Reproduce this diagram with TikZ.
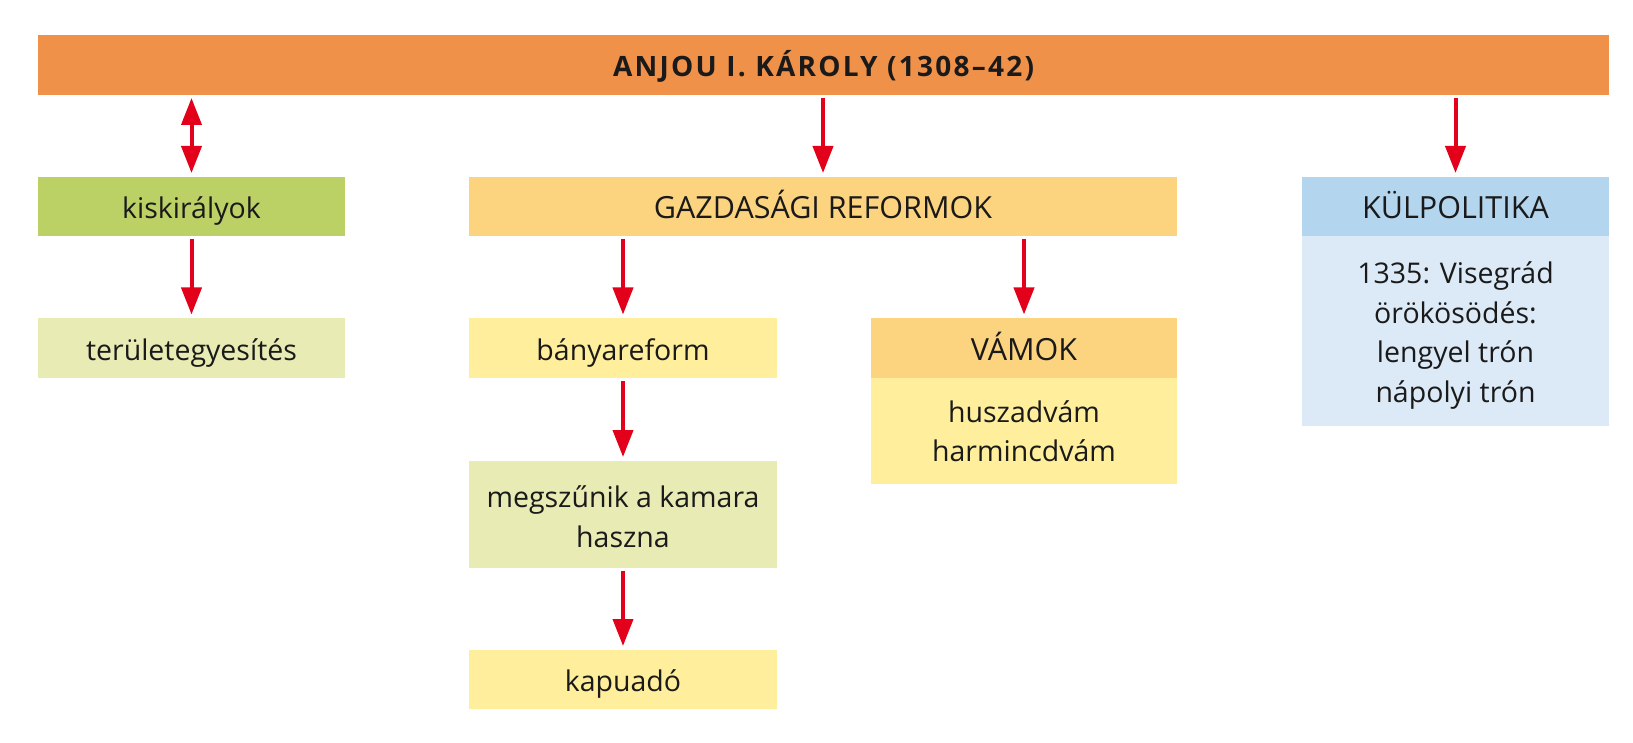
\documentclass[tikz,border=0pt]{standalone}
\usepackage{fontspec}
\setmainfont{Open Sans}
\newfontfamily\titlefont{Open Sans}[LetterSpace=8]
\usetikzlibrary{arrows.meta}
\definecolor{cTop}{HTML}{F0914A}
\definecolor{cGreen}{HTML}{BBD166}
\definecolor{cLGreen}{HTML}{E8ECB4}
\definecolor{cGold}{HTML}{FCD37F}
\definecolor{cYellow}{HTML}{FFEE9B}
\definecolor{cBlue}{HTML}{B4D5EE}
\definecolor{cLBlue}{HTML}{DCE9F6}
\definecolor{cRed}{HTML}{E3001B}
\definecolor{cText}{HTML}{1A1A1A}
\newcommand\topst[1]{\rule{0pt}{#1pt}}
\newcommand\botst{\rule[-8.5pt]{0pt}{8.5pt}}
\tikzset{
  box/.style={anchor=north west, inner sep=0pt, outer sep=0pt, align=center,
    text=cText, font=\fontsize{28.5}{39.5}\selectfont},
  one/.style={text height=32pt, text depth=8.5pt},
  hbox/.style={box, one, font=\fontsize{30.5}{39.5}\selectfont, text height=33pt},
  arr/.style={draw=cRed, line width=4pt, -{Triangle[length=27pt,width=20pt]},
    shorten <=3pt, shorten >=4pt},
  darr/.style={draw=cRed, line width=4pt, {Triangle[length=27pt,width=20pt]}-{Triangle[length=27pt,width=20pt]},
    shorten <=3pt, shorten >=4pt}
}
\begin{document}
\begin{tikzpicture}[x=1pt,y=-1pt]
\useasboundingbox (0,0) rectangle (1633,743);
% top bar
\node[box, one, fill=cTop, minimum width=1571pt, minimum height=60pt,
  font=\fontsize{28}{34}\selectfont\titlefont\bfseries] (top) at (38,35) {ANJOU I. KÁROLY (1308–42)};
% left column
\node[box, one, fill=cGreen, minimum width=307pt, minimum height=59pt] (kisk) at (38,177) {kiskirályok};
\node[box, one, fill=cLGreen, minimum width=307pt, minimum height=59.5pt] (terul) at (38,318.5) {területegyesítés};
% middle
\node[hbox, fill=cGold, minimum width=708pt, minimum height=59pt] (gazd) at (469,177) {GAZDASÁGI REFORMOK};
\node[box, one, fill=cYellow, minimum width=308pt, minimum height=59.5pt] (banya) at (469,318.5) {bányareform};
\node[box, fill=cLGreen, minimum width=308pt, minimum height=106.5pt] (megsz) at (469,461) {\topst{35}megszűnik a kamara\\haszna\botst};
\node[box, one, fill=cYellow, minimum width=308pt, minimum height=59pt] (kapu) at (469,650) {kapuadó};
\node[hbox, fill=cGold, minimum width=306pt, minimum height=59.5pt] (vamh) at (871,318.5) {VÁMOK};
\node[box, fill=cYellow, minimum width=306pt, minimum height=106pt] (vamb) at (871,378) {\topst{30}huszadvám\\harmincdvám\botst};
% right
\node[hbox, fill=cBlue, minimum width=307pt, minimum height=59pt] (kulh) at (1302,177) {KÜLPOLITIKA};
\node[box, fill=cLBlue, minimum width=307pt, minimum height=190pt] (kulb) at (1302,236) {\topst{32}1335: Visegrád\\örökösödés:\\lengyel trón\\nápolyi trón\botst};
% arrows
\draw[darr] (top.south -| kisk.north) -- (kisk.north);
\draw[arr] (top.south -| gazd.north) -- (gazd.north);
\draw[arr] (top.south -| kulh.north) -- (kulh.north);
\draw[arr] (kisk.south) -- (terul.north);
\draw[arr] (gazd.south -| banya.north) -- (banya.north);
\draw[arr] (gazd.south -| vamh.north) -- (vamh.north);
\draw[arr] (banya.south) -- (megsz.north);
\draw[arr] (megsz.south) -- (kapu.north);
\end{tikzpicture}
\end{document}
